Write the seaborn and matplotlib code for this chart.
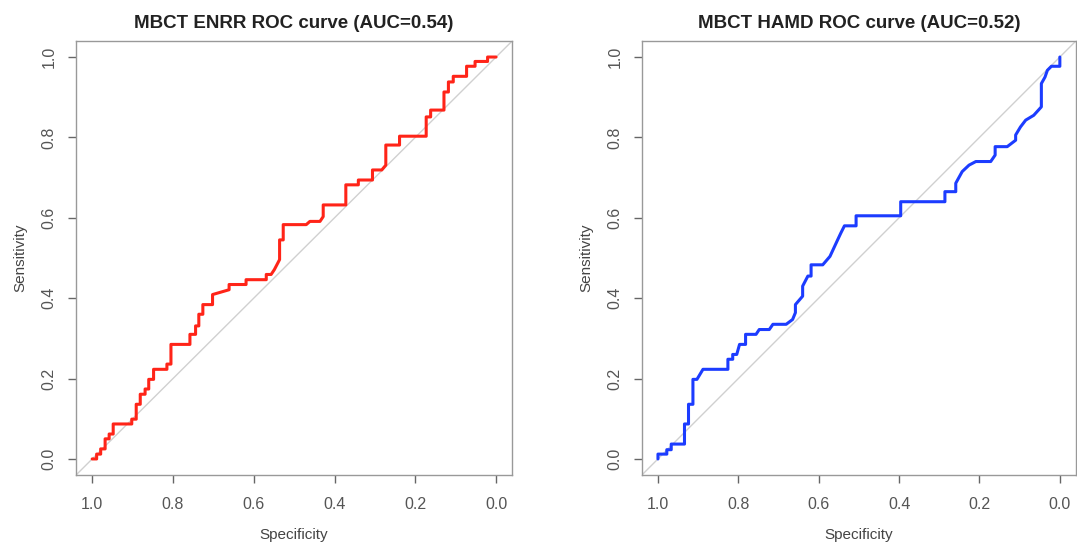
import matplotlib
matplotlib.use("Agg")
import matplotlib.pyplot as plt
import pandas as pd
import seaborn as sns

# ROC vertices (specificity, sensitivity)
enrr_spec = [1.0, 0.989, 0.989, 0.979, 0.979, 0.968, 0.968, 0.958, 0.958, 0.948, 0.948, 0.902,
             0.902, 0.891, 0.891, 0.881, 0.881, 0.869, 0.869, 0.860, 0.860, 0.848, 0.848, 0.815,
             0.815, 0.805, 0.805, 0.758, 0.758, 0.744, 0.744, 0.736, 0.736, 0.726, 0.726, 0.702,
             0.702, 0.661, 0.661, 0.619, 0.619, 0.569, 0.569, 0.557, 0.549, 0.536, 0.536, 0.527,
             0.527, 0.470, 0.461, 0.436, 0.428, 0.428, 0.372, 0.372, 0.341, 0.341, 0.306, 0.306,
             0.283, 0.273, 0.273, 0.239, 0.239, 0.173, 0.173, 0.162, 0.162, 0.129, 0.129, 0.118,
             0.118, 0.106, 0.106, 0.073, 0.073, 0.052, 0.052, 0.021, 0.021, 0.0]
enrr_sens = [0.0, 0.0, 0.012, 0.012, 0.025, 0.025, 0.050, 0.050, 0.062, 0.062, 0.087, 0.087,
             0.099, 0.099, 0.136, 0.136, 0.161, 0.161, 0.174, 0.174, 0.198, 0.198, 0.223, 0.223,
             0.236, 0.236, 0.285, 0.285, 0.310, 0.310, 0.331, 0.331, 0.360, 0.360, 0.384, 0.384,
             0.409, 0.421, 0.434, 0.434, 0.446, 0.446, 0.459, 0.459, 0.471, 0.496, 0.545, 0.545,
             0.583, 0.583, 0.591, 0.591, 0.603, 0.632, 0.632, 0.682, 0.682, 0.694, 0.694, 0.719,
             0.719, 0.731, 0.781, 0.781, 0.803, 0.803, 0.851, 0.851, 0.868, 0.868, 0.913, 0.913,
             0.938, 0.938, 0.952, 0.952, 0.977, 0.977, 0.989, 0.989, 1.0, 1.0]

hamd_spec = [1.0, 1.0, 0.978, 0.978, 0.967, 0.967, 0.934, 0.934, 0.924, 0.924, 0.913, 0.913,
             0.903, 0.888, 0.826, 0.826, 0.814, 0.814, 0.804, 0.797, 0.782, 0.782, 0.756, 0.748,
             0.723, 0.714, 0.681, 0.665, 0.658, 0.658, 0.640, 0.640, 0.627, 0.619, 0.619, 0.590,
             0.572, 0.553, 0.545, 0.536, 0.507, 0.507, 0.396, 0.396, 0.286, 0.286, 0.259, 0.259,
             0.243, 0.226, 0.209, 0.172, 0.161, 0.161, 0.131, 0.110, 0.110, 0.098, 0.085, 0.065,
             0.046, 0.046, 0.037, 0.031, 0.021, 0.0, 0.0]
hamd_sens = [0.0, 0.012, 0.012, 0.023, 0.023, 0.037, 0.037, 0.087, 0.087, 0.136, 0.136, 0.198,
             0.198, 0.223, 0.223, 0.248, 0.248, 0.260, 0.260, 0.285, 0.285, 0.310, 0.310, 0.322,
             0.322, 0.335, 0.335, 0.347, 0.364, 0.384, 0.405, 0.430, 0.455, 0.455, 0.483, 0.483,
             0.504, 0.545, 0.562, 0.580, 0.580, 0.605, 0.605, 0.640, 0.640, 0.665, 0.665, 0.686,
             0.715, 0.731, 0.740, 0.740, 0.756, 0.777, 0.777, 0.793, 0.806, 0.826, 0.843, 0.855,
             0.876, 0.934, 0.950, 0.967, 0.977, 0.977, 1.0]

titles = ["MBCT ENRR ROC curve (AUC=0.54)", "MBCT HAMD ROC curve (AUC=0.52)"]
colors = ["#ff2418", "#1c3cff"]
ticks = [0.0, 0.2, 0.4, 0.6, 0.8, 1.0]

sns.set_style("white")
plt.rcParams["font.family"] = ["Liberation Sans", "DejaVu Sans"]

fig = plt.figure(figsize=(10.77, 5.46), dpi=100)
ax1 = fig.add_axes([0.0706, 0.130, 0.405, 0.795])
ax2 = fig.add_axes([0.596, 0.130, 0.403, 0.795])

curves = [(enrr_spec, enrr_sens), (hamd_spec, hamd_sens)]
for ax, (spec, sens), title, col in zip([ax1, ax2], curves, titles, colors):
    df = pd.DataFrame({"spec": spec, "sens": sens})
    ax.plot([1.04, -0.04], [-0.04, 1.04], color="#d0d0d0", lw=1.0, zorder=1)
    sns.lineplot(data=df, x="spec", y="sens", sort=False, estimator=None,
                 color=col, lw=2.2, ax=ax, zorder=2)
    ax.set_xlim(1.04, -0.04)
    ax.set_ylim(-0.04, 1.04)
    ax.set_xticks(ticks)
    ax.set_yticks(ticks)
    ax.set_xticklabels([f"{t:.1f}" for t in ticks])
    ax.set_yticklabels([f"{t:.1f}" for t in ticks], rotation=90, va="center")
    ax.tick_params(axis="both", direction="out", length=6, width=1, color="#666666",
                   labelcolor="#555555", labelsize=11.5, left=True, bottom=True)
    ax.tick_params(axis="x", pad=10)
    ax.tick_params(axis="y", pad=8)
    for s in ax.spines.values():
        s.set_color("#999999")
        s.set_linewidth(1)
    ax.set_xlabel("Specificity", fontsize=11, color="#444444", labelpad=11)
    ax.set_ylabel("Sensitivity", fontsize=11, color="#444444", labelpad=10)
    ax.set_title(title, fontsize=13.5, fontweight="bold", color="#222222", pad=9)

fig.savefig("out.png", dpi=100)
